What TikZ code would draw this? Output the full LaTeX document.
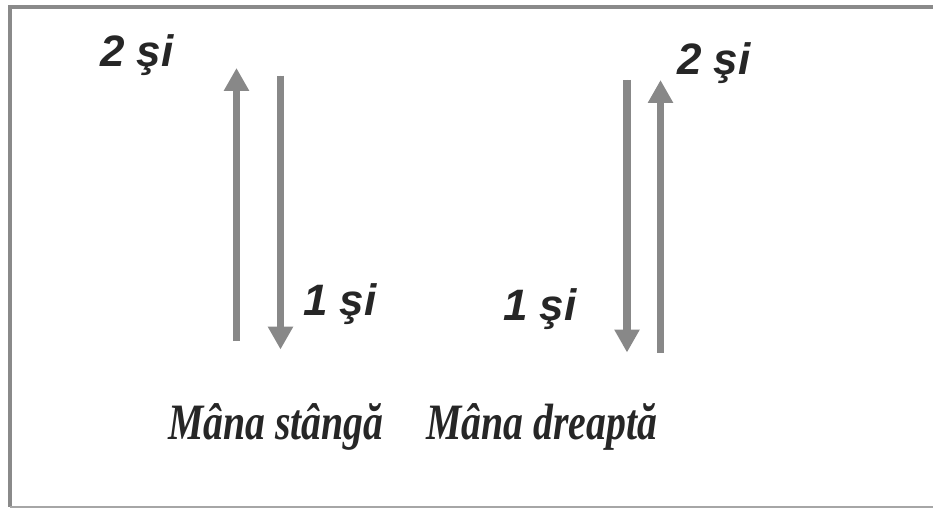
\documentclass[tikz,border=0pt]{standalone}
\usepackage{fontspec}
\usetikzlibrary{arrows.meta}
\newfontfamily\lblfont[BoldItalicFont={* Bold Italic}]{Liberation Sans}
\newfontfamily\capfont[UprightFont={* Bold Italic}, FakeStretch=0.78]{Liberation Serif}
\definecolor{arrgray}{HTML}{888888}
\definecolor{framegray}{HTML}{8A8A8A}
\definecolor{txt}{HTML}{262626}
\tikzset{
  harrow/.style={draw=arrgray, line width=7.5pt, -{Triangle[width=24pt,length=23pt]}, fill=arrgray},
  numlbl/.style={anchor=base west, inner sep=0pt, text=txt, font=\lblfont\fontsize{44}{44}\selectfont\bfseries\itshape},
  caplbl/.style={anchor=base west, inner sep=0pt, text=txt, font=\capfont\fontsize{51}{51}\selectfont}
}
\begin{document}
\begin{tikzpicture}[x=1pt,y=-1pt]
\useasboundingbox (0,0) rectangle (933,508);
% frame
\draw[framegray, line width=4pt] (945,7.5) -- (10,7.5) -- (10,507);
\draw[color=gray!70, line width=2pt] (10,507) -- (945,507);
% arrow end points
\coordinate (a1s) at (236.5,341);
\coordinate (a1e) at (236.5,68);
\coordinate (a2s) at (280.5,75.7);
\coordinate (a2e) at (280.5,349.5);
\coordinate (a3s) at (627,80);
\coordinate (a3e) at (627,352.5);
\coordinate (a4s) at (660.5,352.7);
\coordinate (a4e) at (660.5,80);
\draw[harrow] (a1s) -- (a1e);
\draw[harrow] (a2s) -- (a2e);
\draw[harrow] (a3s) -- (a3e);
\draw[harrow] (a4s) -- (a4e);
% labels
\node[numlbl] (l2) at (100,67) {2 şi};
\node[numlbl] (l1) at (303,315) {1 şi};
\node[numlbl] (r1) at (503,320) {1 şi};
\node[numlbl] (r2) at (677,75) {2 şi};
\node[caplbl] (cl) at (168,439.5) {Mâna stângă};
\node[caplbl] (cr) at (426,439.5) {Mâna dreaptă};
\end{tikzpicture}
\end{document}
